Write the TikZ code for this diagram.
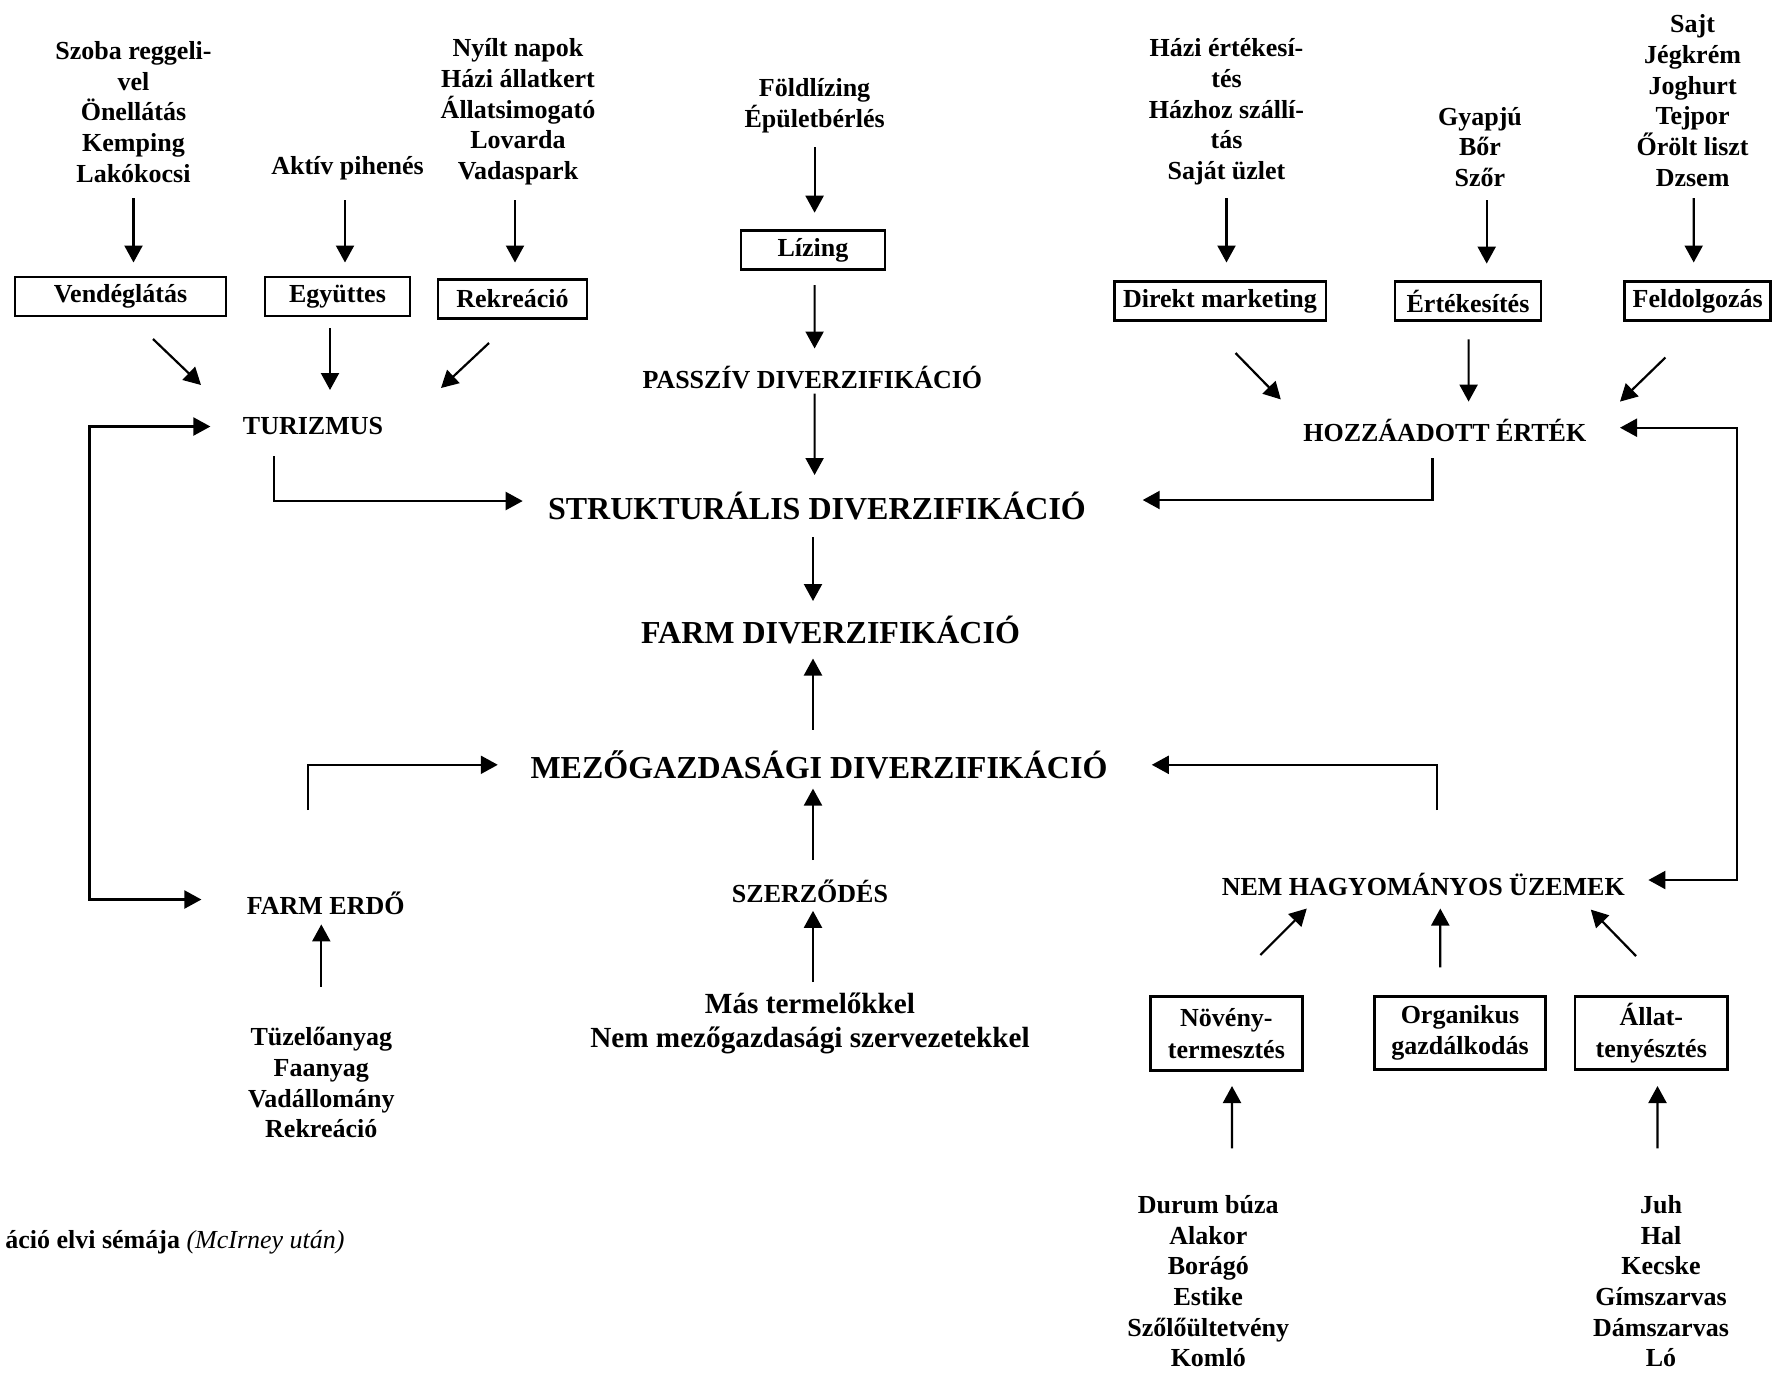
\documentclass[tikz,border=0pt]{standalone}
\usepackage{fontspec}
\setmainfont{Liberation Serif}
\usetikzlibrary{arrows.meta,calc}

\begin{document}
\begin{tikzpicture}[x=0.5pt,y=-0.5pt,
  lbl/.style={font=\bfseries\fontsize{13}{15.35}\selectfont, align=center, inner sep=0pt},
  bigl/.style={font=\bfseries\fontsize{16}{19}\selectfont, inner sep=0pt},
  midl/.style={font=\bfseries\fontsize{14.6}{17}\selectfont, align=center, inner sep=0pt},
  boxed/.style={draw, line width=1.3pt, font=\bfseries\fontsize{13}{15.8}\selectfont,
    align=center, inner sep=0pt, minimum height=19.5pt},
  arr/.style={line width=1.1pt, -{Triangle[length=8.5pt,width=9pt]}},
  darr/.style={line width=1.1pt, {Triangle[length=8.5pt,width=9pt]}-{Triangle[length=8.5pt,width=9pt]}}
]
\useasboundingbox (0,0) rectangle (1774,1373);

% --- tourism branch ---
\node[lbl] (szoba) at (133.5,112) {Szoba reggeli-\\vel\\Önellátás\\Kemping\\Lakókocsi};
\node[lbl] (aktiv) at (347.5,168.5) {Aktív pihenés};
\node[lbl] (nyilt) at (518,112) {Nyílt napok\\Házi állatkert\\Állatsimogató\\Lovarda\\Vadaspark};
\node[boxed, minimum width=105.5pt] (vend) at (120.5,296.5) {Vendéglátás};
\node[boxed, minimum width=72.5pt] (egy) at (337.5,296.5) {Együttes};
\node[boxed, minimum width=74.5pt] (rek) at (512.5,299) {Rekreáció};
\node[lbl] (tur) at (313,426.5) {TURIZMUS};

% --- central column ---
\node[lbl] (fold) at (814.6,106) {Földlízing\\Épületbérlés};
\node[boxed, minimum width=72pt] (lizing) at (813,250) {Lízing};
\node[lbl] (passziv) at (812.4,378) {PASSZÍV DIVERZIFIKÁCIÓ};
\node[bigl] (strukt) at (817,505.7) {STRUKTURÁLIS DIVERZIFIKÁCIÓ};
\node[bigl] (farmdiv) at (830.5,630) {FARM DIVERZIFIKÁCIÓ};
\node[bigl] (mezo) at (819,765) {MEZŐGAZDASÁGI DIVERZIFIKÁCIÓ};
\node[lbl] (szerz) at (810,891.5) {SZERZŐDÉS};
\node[midl] (mas) at (810,1023) {Más termelőkkel\\Nem mezőgazdasági szervezetekkel};

% --- added value branch ---
\node[lbl] (hazi) at (1226.5,112) {Házi értékesí-\\tés\\Házhoz szállí-\\tás\\Saját üzlet};
\node[lbl] (gyapju) at (1480,147) {Gyapjú\\Bőr\\Szőr};
\node[lbl] (sajt) at (1692.6,100.7) {Sajt\\Jégkrém\\Joghurt\\Tejpor\\Őrölt liszt\\Dzsem};
\node[boxed, minimum width=105.8pt] (direkt) at (1220,301) {Direkt marketing};
\node[boxed, minimum width=73pt] (ert) at (1468,301) {Értékesítés};
\node[boxed, minimum width=73pt] (feld) at (1697.7,301) {Feldolgozás};
\node[lbl] (hozza) at (1444.8,430) {HOZZÁADOTT ÉRTÉK};

% --- farm forest ---
\node[lbl] (farmerdo) at (325.8,903) {FARM ERDŐ};
\node[lbl] (tuzelo) at (321.3,1082.8) {Tüzelőanyag\\Faanyag\\Vadállomány\\Rekreáció};

% --- non-traditional enterprises ---
\node[lbl] (nemhagy) at (1423.3,884.8) {NEM HAGYOMÁNYOS ÜZEMEK};
\node[boxed, minimum width=75.8pt, minimum height=36.75pt] (noveny) at (1226.4,1033.5) {Növény-\\termesztés};
\node[boxed, minimum width=85.5pt, minimum height=36.75pt] (organ) at (1460,1033) {Organikus\\gazdálkodás};
\node[boxed, minimum width=76.3pt, minimum height=36.75pt] (allat) at (1651.3,1033) {Állat-\\tenyésztés};
\node[lbl] (durum) at (1208.3,1281.3) {Durum búza\\Alakor\\Borágó\\Estike\\Szőlőültetvény\\Komló};
\node[lbl] (juh) at (1661,1281.3) {Juh\\Hal\\Kecske\\Gímszarvas\\Dámszarvas\\Ló};

% --- caption ---
\node[anchor=east, inner sep=0pt, font=\fontsize{13}{15.35}\selectfont] (capt) at (345,1242)
  {\textbf{áció elvi sémája} \textit{(McIrney után)}};

% --- connectors: tourism ---
\draw[arr] ($(szoba.center)+(0,86)$) -- ($(vend.center)+(13,-34)$);
\draw[arr] ($(aktiv.center)+(-2.5,31.5)$) -- ($(egy.center)+(7.5,-34)$);
\draw[arr] ($(nyilt.center)+(-3,88)$) -- ($(rek.center)+(2.5,-36.5)$);
\draw[arr] ($(vend.center)+(32.5,42.5)$) -- ($(tur.center)+(-112,-41.5)$);
\draw[arr] ($(egy.center)+(-7.5,31.5)$) -- ($(tur.center)+(17,-36.5)$);
\draw[arr] ($(rek.center)+(-23.5,44)$) -- ($(tur.center)+(128,-38.5)$);
\draw[darr] ($(tur.center)+(-102.6,0)$) -- ++(-121,0) |- ($(farmerdo.center)+(-124.4,-3.5)$);
\draw[arr] ($(tur.center)+(-39.2,29.5)$) |- ($(strukt.center)+(-294.3,-4.7)$);

% --- connectors: central column ---
\draw[arr] ($(fold.center)+(0,41)$) -- ($(lizing.center)+(1.6,-37.3)$);
\draw[arr] ($(lizing.center)+(1.6,35)$) -- ($(passziv.center)+(2.2,-29.5)$);
\draw[arr] ($(passziv.center)+(2.2,15.7)$) -- ($(strukt.center)+(-2.4,-30.7)$);
\draw[arr] ($(strukt.center)+(-4,31.3)$) -- ($(farmdiv.center)+(-17.5,-29)$);
\draw[arr] ($(mezo.center)+(-6,-35.2)$) -- ($(farmdiv.center)+(-17.5,28.5)$);
\draw[arr] ($(szerz.center)+(3,-31.5)$) -- ($(mezo.center)+(-6,23.6)$);
\draw[arr] ($(mas.center)+(3,-41)$) -- ($(szerz.center)+(3,19.3)$);

% --- connectors: added value ---
\draw[arr] ($(hazi.center)+(0,86)$) -- ($(direkt.center)+(6.5,-38.5)$);
\draw[arr] ($(gyapju.center)+(6.7,53)$) -- ($(ert.center)+(18.7,-37.4)$);
\draw[arr] ($(sajt.center)+(1.1,97.3)$) -- ($(feld.center)+(-4,-38.5)$);
\draw[arr] ($(direkt.center)+(15.5,52)$) -- ($(hozza.center)+(-164,-30.6)$);
\draw[arr] ($(ert.center)+(0.6,38.4)$) -- ($(hozza.center)+(23.8,-28.4)$);
\draw[arr] ($(feld.center)+(-32.3,56.5)$) -- ($(hozza.center)+(175.2,-28.4)$);
\draw[arr] ($(hozza.center)+(-12.4,28)$) |- ($(strukt.center)+(325.7,-5.7)$);
\draw[darr] ($(hozza.center)+(175.2,-2.3)$) -- ++(116.7,0) |- ($(nemhagy.center)+(225.1,-4.8)$);

% --- connectors: lower part ---
\draw[arr] ($(nemhagy.center)+(13.7,-74.8)$) |- ($(mezo.center)+(332.8,-0.2)$);
\draw[arr] ($(farmerdo.center)+(-18.1,-93)$) |- ($(mezo.center)+(-321.2,-0.2)$);
\draw[arr] ($(tuzelo.center)+(0,-96.2)$) -- ($(farmerdo.center)+(-4.5,21.4)$);
\draw[arr] ($(noveny.center)+(34,-78.5)$) -- ($(nemhagy.center)+(-116.5,23.7)$);
\draw[arr] ($(organ.center)+(-19.7,-65.7)$) -- ($(nemhagy.center)+(17,23.7)$);
\draw[arr] ($(allat.center)+(-15.3,-77)$) -- ($(nemhagy.center)+(167.5,24.8)$);
\draw[arr] ($(durum.center)+(23.7,-132.9)$) -- ($(noveny.center)+(5.6,52.5)$);
\draw[arr] ($(juh.center)+(-3.5,-132.9)$) -- ($(allat.center)+(6.2,53)$);
\end{tikzpicture}
\end{document}
